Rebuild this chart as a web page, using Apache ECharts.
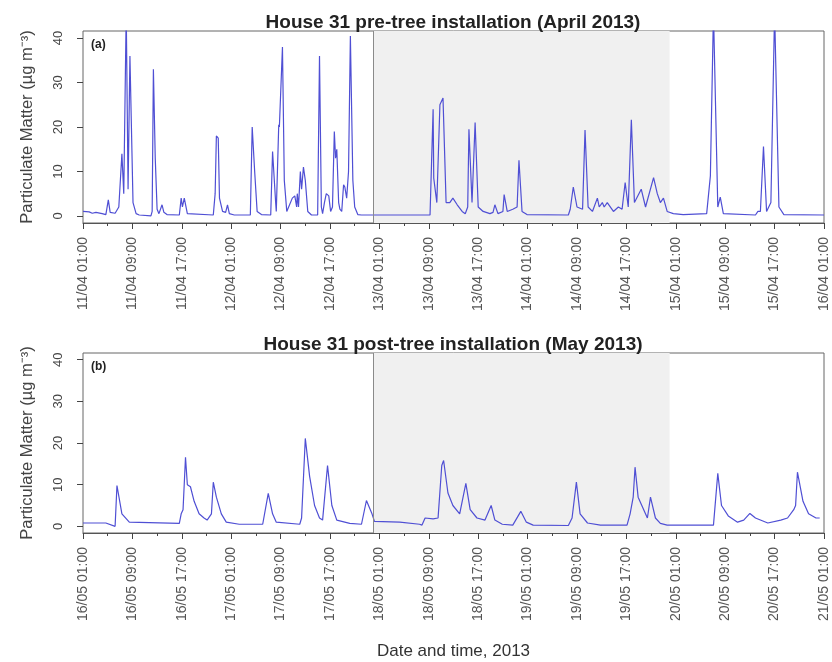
<!DOCTYPE html>
<html lang="en">
<head>
    <meta charset="UTF-8">
    <title>House 31 particulate matter</title>
    <script src="https://cdn.jsdelivr.net/npm/echarts@6/dist/echarts.min.js"></script>
    <style type="text/css">
        html, body {
            margin: 0;
            width: 100%;
            height: 100%;
            background: #fff;
        }
        #main {
            width: 832px;
            height: 662px;
        }
    </style>
</head>
<body>
<div id="main"></div>
<script type="text/javascript">
    // x tick labels, one every 8 hours
    var ticksA = ['11/04 01:00', '11/04 09:00', '11/04 17:00', '12/04 01:00', '12/04 09:00', '12/04 17:00',
        '13/04 01:00', '13/04 09:00', '13/04 17:00', '14/04 01:00', '14/04 09:00', '14/04 17:00',
        '15/04 01:00', '15/04 09:00', '15/04 17:00', '16/04 01:00'];
    var ticksB = ['16/05 01:00', '16/05 09:00', '16/05 17:00', '17/05 01:00', '17/05 09:00', '17/05 17:00',
        '18/05 01:00', '18/05 09:00', '18/05 17:00', '19/05 01:00', '19/05 09:00', '19/05 17:00',
        '20/05 01:00', '20/05 09:00', '20/05 17:00', '21/05 01:00'];
    var yTicks = [0, 10, 20, 30, 40];

    // shaded period, hours from first tick
    var shadeA = [47, 95];
    var shadeB = [47, 95];

    // (a) April 2013, hours from 11/04 01:00
    var hoursA = [0, 1, 1.5, 2.1, 3.1, 3.7, 4.1, 4.4, 5.2, 5.8, 6.3, 6.6, 7, 7.3, 7.6, 8.1, 8.6, 9.1, 11, 11.2,
        11.4, 11.7, 12, 12.3, 12.8, 13.1, 13.6, 15.6, 15.9, 16.1, 16.4, 16.9, 21.1, 21.4, 21.6, 21.9, 22.1, 22.6, 23.1, 23.4,
        23.7, 24, 24.5, 27.1, 27.4, 27.8, 28.2, 28.9, 30.4, 30.7, 31.2, 31.3, 31.7, 31.8, 32.3, 32.6, 33, 33.9, 34.3, 34.6,
        34.7, 34.9, 35.2, 35.4, 35.7, 36, 36.4, 37, 38, 38.3, 38.6, 38.8, 39.1, 39.4, 39.8, 40.1, 40.4, 40.7, 40.9, 41.1,
        41.4, 41.6, 41.9, 42.2, 42.4, 42.7, 43, 43.3, 43.7, 44, 44.5, 45.1, 56.2, 56.7, 56.8, 57.3, 57.8, 58.3, 58.8, 59.4,
        59.9, 60.6, 61.4, 61.9, 62.3, 62.5, 63, 63.5, 64, 64.8, 65.9, 66.4, 66.7, 67.2, 68, 68.2, 68.7, 69.6, 70.3, 70.6, 71.1, 71.9, 78.6,
        78.9, 79.4, 80, 80.9, 81.3, 81.8, 82.5, 83.3, 83.6, 84.1, 84.4, 84.9, 85.9, 86.7, 87.3, 87.8, 88.3, 88.8, 89.3, 90.4, 91.1,
        92.4, 93, 93.5, 94, 94.6, 95.6, 97.2, 101, 101.6, 102.1, 102.8, 103.2, 103.7, 108.9, 109.3, 109.7, 110.2, 110.7, 111.4, 112,
        112.7, 113.5, 120];
    var pmA = [1, 0.9, 0.6, 0.8, 0.5, 0.3, 3.6, 0.8, 0.6, 2, 14, 5, 46, 6, 36, 3, 0.5, 0.2, 0, 1,
        33, 13, 1.5, 0.5, 2.5, 0.8, 0.3, 0.2, 4, 2, 4, 0.5, 0.2, 5, 18, 17.5, 4, 1, 0.8, 2.5,
        0.5, 0.8, 0.2, 0.2, 20, 10, 1, 0.3, 0.2, 14.5, 3, 1, 20.5, 20, 38, 8, 1, 4, 4.5, 2,
        5, 2, 10, 6, 11, 8, 1, 0.2, 0.2, 36, 2, 0.5, 3, 5, 4.5, 1, 2, 19, 13, 15,
        3, 1.5, 1, 7, 6.5, 4, 10, 40.5, 8, 2, 0.3, 0.2, 0.2, 24, 8.5, 3, 25, 26.5, 3, 3,
        4, 2.5, 1, 0.5, 2, 19.5, 3, 21, 2, 1, 0.5, 0.8, 2.5, 0.5, 1, 4.8, 1, 1.5, 2, 12.5, 1, 0.3, 0.2,
        1.5, 6.5, 2, 1.5, 19.3, 2, 1, 4, 2, 3, 2, 3, 1, 2, 1.5, 7.5, 2, 21.6, 3, 6, 2,
        8.6, 5, 3, 4, 1, 0.5, 0.3, 0.5, 9, 46, 2, 4.2, 0.5, 0.2, 1, 1, 15.6, 1, 3, 46,
        2, 0.3, 0.2];

    // (b) May 2013, hours from 16/05 01:00
    var hoursB = [0, 3.7, 5.2, 5.5, 6.3, 7.5, 15.6, 15.9, 16.2, 16.6, 16.9, 17.4, 18, 18.8, 19.6, 20.1, 20.8, 21.1, 21.6, 22.4,
        23.2, 25.3, 29.1, 30, 30.7, 31.3, 35.1, 35.4, 36, 36.7, 37.5, 38.3, 38.8, 39.6, 40.3, 41.1, 43.2, 45.1, 45.9, 46.8,
        47.2, 51.3, 54.5, 54.9, 55.4, 56.7, 57.5, 58.1, 58.4, 59.1, 59.9, 61, 62, 62.7, 63.8, 65.1, 66.1, 66.7, 67.9, 69.6,
        70.9, 71.8, 72.9, 78.6, 79.2, 79.9, 80.5, 81.7, 83.8, 88.1, 88.6, 89.1, 89.4, 89.9, 91.4, 91.9, 92.7, 93.5, 94.6, 102.1,
        102.8, 103.4, 104.5, 106, 107, 108, 108.9, 110.9, 113, 114.1, 115.1, 115.4, 115.7, 116.6, 117.5, 118.7, 119.3];
    var pmB = [0.8, 0.8, 0, 9.8, 3, 1, 0.7, 3, 4, 16.6, 10, 9.5, 6, 3, 2, 1.5, 3, 10.6, 7, 3,
        1, 0.5, 0.5, 7.9, 3, 1, 0.5, 2, 21.1, 12, 5, 2, 1.5, 14.6, 5, 1.5, 0.7, 0.5, 6.2, 3,
        1.2, 1, 0.5, 0.3, 2, 1.8, 2, 14.6, 15.8, 8, 5, 3, 10.3, 4, 2, 1.5, 5, 1.5, 0.5, 0.3,
        3.6, 1, 0.3, 0.2, 2, 10.6, 3, 0.8, 0.3, 0.3, 3, 7, 14.2, 7, 2, 7, 2, 0.7, 0.3, 0.3,
        12.7, 5, 2.5, 1, 1.5, 3.1, 2, 0.8, 1.5, 2, 4, 5, 13, 6, 3, 2, 2];

    function pairs(xs, ys) {
        var out = [];
        for (var i = 0; i < xs.length; i++) {
            out.push([xs[i], ys[i]]);
        }
        return out;
    }

    var font = 'Liberation Sans, Arial, sans-serif';
    var gridA = {left: 83, right: 8, top: 31, height: 192};
    var gridB = {left: 83, right: 8, top: 353, height: 180};

    function xAxisFor(idx, ticks, showName) {
        return {
            type: 'value',
            gridIndex: idx,
            min: 0,
            max: 120,
            interval: 8,
            name: showName ? 'Date and time, 2013' : '',
            nameLocation: 'middle',
            nameGap: 110,
            nameTextStyle: {fontFamily: font, fontSize: 17, color: '#333'},
            axisLine: {show: true, onZero: false, lineStyle: {color: '#555'}},
            axisTick: {show: true, length: 6, lineStyle: {color: '#444'}},
            minorTick: {show: true, splitNumber: 2, length: 3, lineStyle: {color: '#444'}},
            splitLine: {show: false},
            axisLabel: {
                rotate: 90,
                margin: 14,
                fontFamily: font,
                fontSize: 14,
                color: '#555',
                showMinLabel: true,
                showMaxLabel: true,
                formatter: function (v) {
                    return ticks[Math.round(v / 8)] || '';
                }
            }
        };
    }

    function yAxisFor(idx) {
        return {
            type: 'value',
            gridIndex: idx,
            min: -1.6,
            max: 41.6,
            name: 'Particulate Matter (µg m\u207B\u00B3)',
            nameLocation: 'middle',
            nameGap: 47,
            nameTextStyle: {fontFamily: font, fontSize: 16.5, color: '#444'},
            axisLine: {show: false},
            axisTick: {show: true, length: 6, customValues: yTicks, lineStyle: {color: '#444'}},
            splitLine: {show: false},
            axisLabel: {
                rotate: 90,
                margin: 18,
                fontFamily: font,
                fontSize: 13,
                color: '#444',
                customValues: yTicks
            }
        };
    }

    function seriesFor(idx, xs, ys, shade) {
        return {
            type: 'line',
            xAxisIndex: idx,
            yAxisIndex: idx,
            data: pairs(xs, ys),
            showSymbol: false,
            symbol: 'none',
            clip: true,
            lineStyle: {color: '#4f4fd4', width: 1.2},
            markArea: {
                silent: true,
                itemStyle: {color: '#f0f0f0'},
                data: [[{xAxis: shade[0]}, {xAxis: shade[1]}]]
            },
            markLine: {
                silent: true,
                symbol: 'none',
                label: {show: false},
                lineStyle: {color: '#8a8a8a', type: 'solid', width: 1},
                data: [{xAxis: shade[0]}]
            }
        };
    }

    var myChart = echarts.init(document.getElementById('main'));
    var option = {
        animation: false,
        backgroundColor: '#fff',
        title: [
            {
                text: 'House 31 pre-tree installation (April 2013)',
                left: 453,
                textAlign: 'center',
                top: 13,
                padding: 0,
                textStyle: {fontFamily: font, fontSize: 19, fontWeight: 'bold', color: '#222'}
            },
            {
                text: 'House 31 post-tree installation (May 2013)',
                left: 453,
                textAlign: 'center',
                top: 335,
                padding: 0,
                textStyle: {fontFamily: font, fontSize: 19, fontWeight: 'bold', color: '#222'}
            }
        ],
        graphic: [
            {type: 'text', left: 91, top: 39, style: {text: '(a)', font: 'bold 12px ' + font, fill: '#222'}},
            {type: 'text', left: 91, top: 361, style: {text: '(b)', font: 'bold 12px ' + font, fill: '#222'}}
        ],
        grid: [
            Object.assign({show: true, borderColor: '#666', borderWidth: 1, backgroundColor: '#fff'}, gridA),
            Object.assign({show: true, borderColor: '#666', borderWidth: 1, backgroundColor: '#fff'}, gridB)
        ],
        xAxis: [xAxisFor(0, ticksA, false), xAxisFor(1, ticksB, true)],
        yAxis: [yAxisFor(0), yAxisFor(1)],
        series: [seriesFor(0, hoursA, pmA, shadeA), seriesFor(1, hoursB, pmB, shadeB)]
    };
    myChart.setOption(option);
</script>
</body>
</html>
